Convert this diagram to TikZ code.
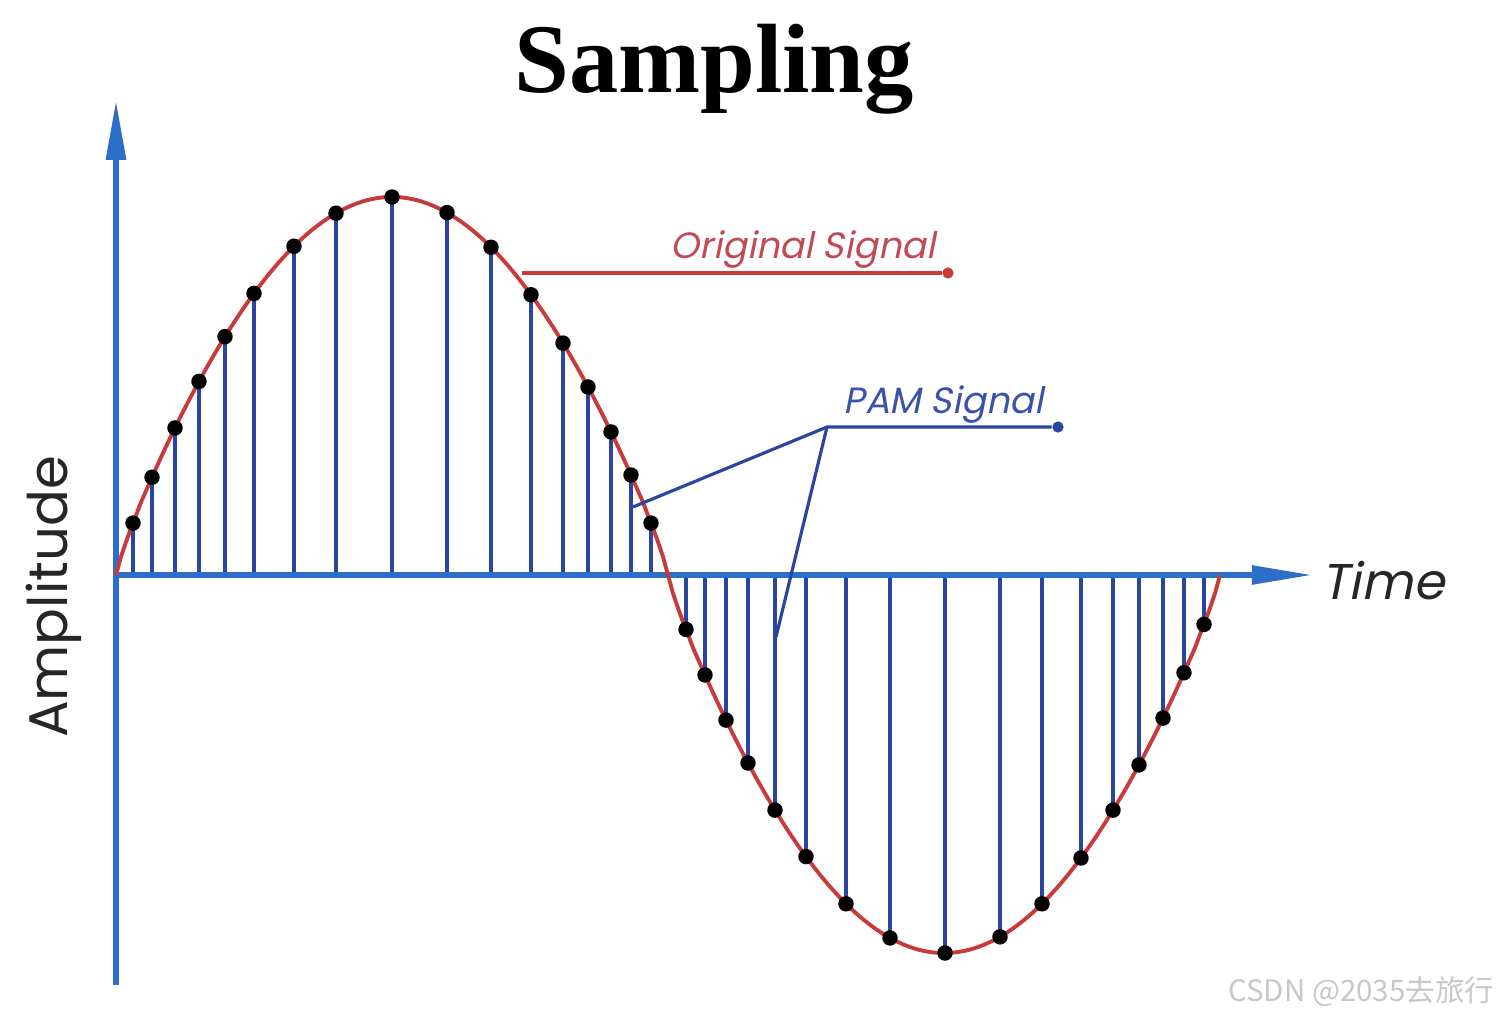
\documentclass[tikz,border=0pt]{standalone}
\usepackage{fontspec}
\setmainfont{Liberation Serif}
\newfontfamily\labelfont{Poppins}
\newfontfamily\slantfont[FakeSlant=0.2]{Poppins}
\newfontfamily\cjk{Noto Sans CJK SC}
\usepackage{tikz}
\usetikzlibrary{positioning,arrows.meta}

\definecolor{axisblue}{HTML}{2C6EC8}
\definecolor{stemblue}{HTML}{2A44A0}
\definecolor{wavered}{HTML}{C93B3B}
\definecolor{origred}{HTML}{C24A55}
\definecolor{pamblue}{HTML}{3A52A8}
\definecolor{markgray}{HTML}{C8C8C8}

% sine-like wave in pixel units (slightly fuller than a pure sine)
\pgfmathdeclarefunction{wave}{1}{%
  \pgfmathparse{sin(((#1-116)/552)*180)}%
  \pgfmathparse{575-378*sign(\pgfmathresult)*(abs(\pgfmathresult)+0.00001)^0.85}%
}

\begin{document}
\begin{tikzpicture}[
        x=0.01cm, y=-0.01cm,
        % Styles
        heading/.style={font=\bfseries\fontsize{28}{30}\selectfont, text=black, inner sep=0pt},
        axis/.style={line width=1.7pt, draw=axisblue},
        axislabel/.style={font=\labelfont\fontsize{15.5}{17}\selectfont, text=black!85, inner sep=0pt},
        timelabel/.style={font=\slantfont\fontsize{14.3}{16}\selectfont, text=black!85, inner sep=0pt},
        curve/.style={line width=1.1pt, draw=wavered},
        stem/.style={line width=0.9pt, draw=stemblue},
        sample/.style={circle, fill=black, inner sep=0pt, minimum size=4.4pt},
        leader/.style={line width=0.9pt},
        enddot/.style={circle, inner sep=0pt, minimum size=3.2pt},
        tag/.style={font=\slantfont\fontsize{10.4}{12}\selectfont, inner sep=0pt},
        watermark/.style={font=\cjk\fontsize{8.4}{10}\selectfont, text=markgray, inner sep=0pt}
    ]
    \useasboundingbox (0,0) rectangle (1502,1018);

    % ================= TITLE =================
    \node[heading, anchor=base] (title) at (714,93) {Sampling};

    % ================= AXES POINTS =================
    \coordinate (origin) at (116,575);
    \coordinate (ytop) at (116,100);
    \coordinate (ybot) at (116,985);
    \coordinate (xend) at (1313,575);

    % ================= STEMS AND SAMPLES =================
    \foreach \x [count=\i] in {133,152,175,199,225,254,294,336,392,447,491,531,563,588,611,631,651,
                               686,705,726,748,775,806,846,890,945,1000,1042,1081,1113,1139,1163,1184,1204} {
        \pgfmathsetmacro\yy{wave(\x)}
        \coordinate (b\i) at (\x,575);
        \coordinate (s\i) at (\x,\yy);
        \draw[stem] (b\i) -- (s\i);
    }

    % ================= AXES =================
    \draw[axis, -{Triangle[length=17pt, width=5.4pt]}] (ybot) -- (ytop);
    \draw[axis, -{Triangle[length=17.4pt, width=5.1pt]}] (origin) -- (xend);

    % ================= ORIGINAL SIGNAL =================
    \draw[curve] plot[domain=116:1220, samples=221] (\x,{wave(\x)});

    \foreach \i in {1,...,34} {
        \node[sample] (d\i) at (s\i) {};
    }

    % ================= AXIS LABELS =================
    \node[timelabel, anchor=base west] (time) at (1321,599) {Time};
    \node[axislabel, rotate=90] (amp) at (54,597) {Amplitude};

    % ================= LEADERS =================
    % red leader from the wave to its tag
    \coordinate (origfoot) at (522,273);
    \node[enddot, fill=wavered] (origdot) at (948,273) {};
    \draw[leader, draw=wavered] (origfoot) -- (origdot);
    \node[tag, text=origred, anchor=base east] (origtag) at (936,258) {Original Signal};

    % blue leader forks to two stems
    \coordinate (pamfork) at (827,427);
    \coordinate (pamup) at (633,507);
    \coordinate (pamdown) at (776,637);
    \node[enddot, fill=stemblue] (pamdot) at (1058,427) {};
    \draw[leader, draw=stemblue] (pamup) -- (pamfork) -- (pamdot);
    \draw[leader, draw=stemblue] (pamfork) -- (pamdown);
    \node[tag, text=pamblue, anchor=base east] (pamtag) at (1044,413) {PAM Signal};

    % ================= WATERMARK =================
    \node[watermark, anchor=base east] (mark) at (1495,1001) {CSDN @2035去旅行};

\end{tikzpicture}
\end{document}
